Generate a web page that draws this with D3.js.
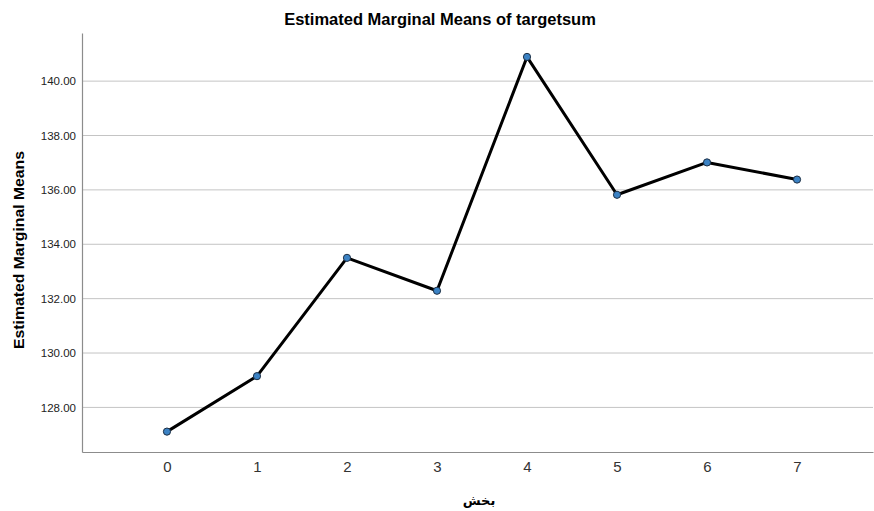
<!DOCTYPE html>
<html>
<head>
<meta charset="utf-8">
<script src="https://cdn.jsdelivr.net/npm/d3@7"></script>
<style>
  body { margin: 0; background: #fff; }
  text { font-family: "Liberation Sans", Arial, sans-serif; }
</style>
</head>
<body>
<div class="chart"></div>
<script>
// data
var categories = [0, 1, 2, 3, 4, 5, 6, 7];
var means = [127.11, 129.15, 133.50, 132.29, 140.89, 135.82, 137.01, 136.38];
var yTicks = [128, 130, 132, 134, 136, 138, 140];

// plot box
var W = 874, H = 511;
var plotLeft = 82, plotRight = 873, plotTop = 33, plotBottom = 452;

var x = d3.scaleLinear().domain([-0.944, 7.844]).range([plotLeft, plotRight]);
var y = d3.scaleLinear().domain([126.36, 141.77]).range([plotBottom, plotTop]);

var svg = d3.select(".chart").append("svg")
  .attr("width", W).attr("height", H);

// gridlines
svg.append("g")
  .selectAll("line")
  .data(yTicks)
  .enter().append("line")
  .attr("x1", plotLeft).attr("x2", plotRight)
  .attr("y1", function(d) { return y(d); })
  .attr("y2", function(d) { return y(d); })
  .attr("stroke", "#c4c4c4")
  .attr("stroke-width", 1);

// y axis
var yAxis = svg.append("g")
  .attr("transform", "translate(" + plotLeft + ",0)")
  .call(d3.axisLeft(y).tickValues(yTicks).tickSize(0).tickPadding(6)
    .tickFormat(d3.format(".2f")));
yAxis.select(".domain").attr("stroke", "#8c8c8c").attr("stroke-width", 1.2);
yAxis.selectAll("text").attr("font-size", 11.5).attr("fill", "#222")
  .style("font-family", "'Liberation Sans', Arial, sans-serif");

// x axis
var xAxis = svg.append("g")
  .attr("transform", "translate(0," + plotBottom + ")")
  .call(d3.axisBottom(x).tickValues(categories).tickSize(0).tickPadding(9)
    .tickFormat(d3.format("d")));
xAxis.select(".domain").attr("stroke", "#8c8c8c").attr("stroke-width", 1.2);
xAxis.selectAll("text").attr("font-size", 15).attr("fill", "#333")
  .style("font-family", "'Liberation Sans', Arial, sans-serif");

// line
var line = d3.line()
  .x(function(d, i) { return x(categories[i]); })
  .y(function(d) { return y(d); });

svg.append("path")
  .datum(means)
  .attr("fill", "none")
  .attr("stroke", "#000")
  .attr("stroke-width", 3)
  .attr("stroke-linejoin", "round")
  .attr("d", line);

// points
svg.selectAll(".dot")
  .data(means)
  .enter().append("circle")
  .attr("class", "dot")
  .attr("cx", function(d, i) { return x(categories[i]); })
  .attr("cy", function(d) { return y(d); })
  .attr("r", 3.6)
  .attr("fill", "#3b82c4")
  .attr("stroke", "#1d2f44")
  .attr("stroke-width", 1);

// title
svg.append("text")
  .attr("x", 440).attr("y", 25)
  .attr("text-anchor", "middle")
  .attr("font-size", 16.5).attr("font-weight", "bold")
  .text("Estimated Marginal Means of targetsum");

// y label
svg.append("text")
  .attr("transform", "translate(24,250) rotate(-90)")
  .attr("text-anchor", "middle")
  .attr("font-size", 15).attr("font-weight", "bold")
  .attr("textLength", 198).attr("lengthAdjust", "spacingAndGlyphs")
  .text("Estimated Marginal Means");

// x label
svg.append("text")
  .attr("x", 479).attr("y", 505)
  .attr("text-anchor", "middle")
  .attr("font-size", 13).attr("font-weight", "bold")
  .style("font-family", "'DejaVu Sans', sans-serif")
  .text("بخش");
</script>
</body>
</html>
